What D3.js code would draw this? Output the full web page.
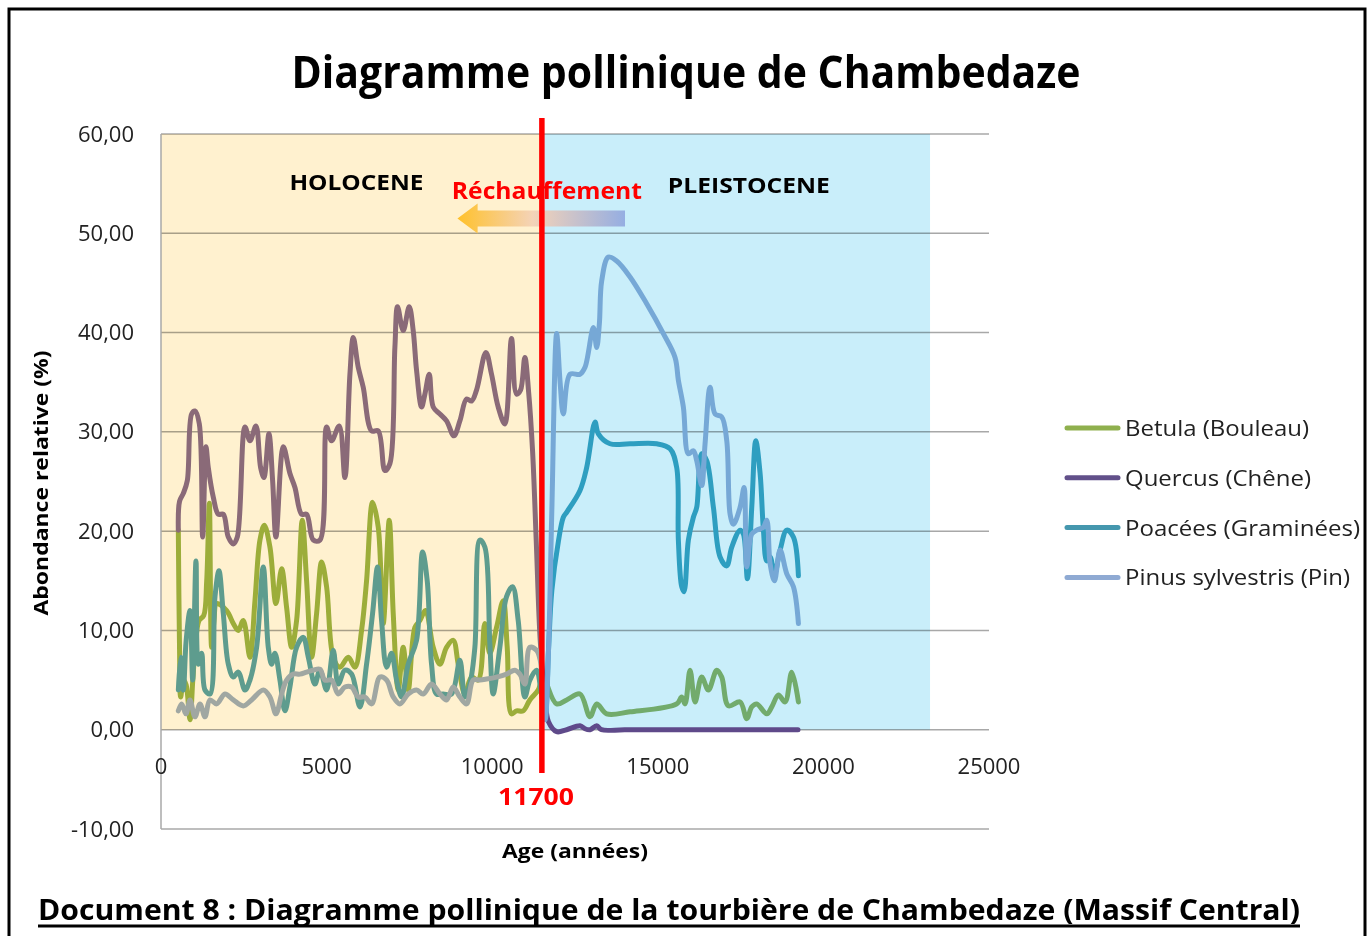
<!DOCTYPE html>
<html>
<head>
<meta charset="utf-8">
<script src="https://cdn.jsdelivr.net/npm/d3@7"></script>
<style>
  body { margin: 0; background: #fff; }
  text { font-family: "Open Sans", "Noto Sans", sans-serif; }
</style>
</head>
<body>
<div id="chart"></div>
<script>
// pollen data: [age in years, relative abundance %]
const betula = [[523,20.1],[560,8],[594,3.3],[680,5],[760,4.5],[875,1.0],[960,5],[1050,9],[1150,11],[1290,11.5],[1380,15],[1459,22.8],[1529,8.3],[1600,11],[1680,12.7],[1982,12.0],[2183,10.7],[2334,10],[2485,11],[2686,7.3],[2837,13],[2988,19.1],[3119,20.6],[3289,18.4],[3471,12.7],[3642,16.2],[3793,12.3],[3944,8.3],[4094,11],[4265,21.1],[4396,15],[4547,7.3],[4698,11.7],[4849,16.9],[5000,14.4],[5201,7.3],[5402,6.3],[5654,7.3],[5855,6.3],[6056,10],[6207,15],[6388,22.9],[6559,20.4],[6710,10.7],[6891,21.1],[7012,11.7],[7163,4],[7313,8.3],[7464,4],[7666,10.3],[7817,11],[7988,12],[8219,8.3],[8421,6.6],[8622,8.3],[8823,9],[8974,6.6],[9175,3.6],[9376,5.3],[9577,5],[9778,10.7],[9929,7.7],[10131,10.3],[10332,13],[10453,8.3],[10583,1.6],[10734,1.9],[10935,1.9],[11137,3],[11388,4],[11550,5.5],[11646,4.6],[11946,2.6],[12248,3.0],[12651,3.6],[12953,1.3],[13155,2.6],[13457,1.6],[14162,1.8],[15571,2.6],[15722,3.3],[15823,2.6],[15974,6.0],[16125,2.8],[16326,5.3],[16528,4.0],[16780,6.0],[16931,5.3],[17132,2.4],[17485,2.8],[17686,1.1],[17837,2.3],[17988,2.6],[18290,1.6],[18441,2.3],[18642,3.5],[18844,2.8],[19045,5.8],[19246,2.8]];

const quercus = [[523,20.1],[560,23],[674,23.8],[795,25.1],[925,31.8],[1026,32.1],[1157,30.8],[1258,19.4],[1358,28.5],[1428,26.4],[1580,23.4],[1730,21.7],[1881,21.7],[2032,19.4],[2183,18.7],[2304,19.4],[2535,30.5],[2686,29.1],[2867,30.6],[3008,26.4],[3108,25.4],[3259,29.8],[3370,25.1],[3471,19.4],[3692,28.5],[3893,25.8],[4044,24.4],[4245,21.7],[4396,21.7],[4597,19.1],[4798,19.1],[5000,30.5],[5150,29.1],[5382,30.6],[5553,25.4],[5704,35.8],[5805,39.5],[5955,36.5],[6106,34.5],[6358,30.1],[6559,30.1],[6760,26.1],[6911,26.8],[7062,38.5],[7142,42.6],[7313,40.2],[7494,42.6],[7615,40.2],[7716,36.2],[7867,32.5],[7968,33.8],[8099,35.8],[8219,32.5],[8421,31.8],[8622,31.1],[8843,29.6],[9024,31.1],[9226,33.3],[9376,33.1],[9527,34.2],[9809,38.0],[9980,35.8],[10181,32.5],[10382,30.8],[10583,39.4],[10734,33.8],[10855,34.2],[10986,37.5],[11100,34],[11220,28],[11330,19],[11450,9],[11600,3],[11700,0.8],[11946,-0.2],[12248,0],[12651,0.4],[12800,0.1],[12953,0],[13155,0.4],[13300,0],[14000,0],[16000,0],[19233,0]];

const poacees = [[523,4.0],[594,7.3],[674,4.0],[760,9],[875,12.0],[956,5.0],[1056,17.0],[1127,6.6],[1227,7.7],[1328,4.0],[1479,3.6],[1630,13.4],[1750,16.0],[1881,11.7],[2032,6.6],[2183,5.3],[2334,5.8],[2535,4.0],[2686,5.0],[2887,8.3],[3088,16.4],[3239,8.3],[3340,6.6],[3440,7.7],[3591,5.0],[3742,1.9],[3893,4.3],[4094,8.3],[4296,9.3],[4447,7.3],[4648,4.6],[4798,6.0],[5000,4.0],[5201,8.0],[5352,4.6],[5553,6.0],[5754,5.6],[6006,2.3],[6207,6.6],[6388,11.7],[6539,16.4],[6660,11.0],[6811,6.3],[6961,7.7],[7112,5.0],[7263,3.3],[7464,6.6],[7716,9.0],[7897,17.9],[8038,15.0],[8169,6.6],[8320,3.6],[8521,3.6],[8773,3.6],[9024,7.0],[9175,3.3],[9326,4.6],[9477,8.3],[9627,19.1],[9778,18.4],[9929,8.7],[10030,3.6],[10231,8.3],[10433,13.4],[10614,14.4],[10785,11.0],[10986,3.3],[11137,5.0],[11338,6.0],[11470,4],[11600,1.5],[11700,8],[11800,14],[12000,19],[12148,21.4],[12248,21.9],[12651,24.1],[12852,26.4],[13105,31.0],[13205,29.8],[13557,28.8],[14162,28.8],[14968,28.8],[15370,28.3],[15571,26.4],[15621,19.1],[15722,14.4],[15792,13.9],[15923,19.1],[16074,21.4],[16175,22.4],[16326,27.8],[16477,27.1],[16679,22.4],[16880,17.4],[17082,16.5],[17233,18.4],[17485,20.1],[17585,19.7],[17706,15.2],[17837,22.4],[17958,29.1],[18089,25.8],[18189,20.1],[18290,17.0],[18391,17.4],[18522,15.7],[18693,18.1],[18894,20.1],[19095,19.4],[19246,15.5]];

const pinus = [[523,1.9],[624,2.6],[755,1.6],[875,3.0],[1026,1.3],[1177,2.6],[1328,1.3],[1479,3.0],[1680,2.6],[1931,3.6],[2183,3.0],[2485,2.4],[2736,3.0],[3088,4.0],[3289,3.3],[3471,1.6],[3642,3.6],[3793,5.0],[3994,5.6],[4195,5.6],[4396,5.8],[4597,6.0],[4798,6.1],[4949,5.0],[5150,5.0],[5352,3.6],[5553,4.3],[5754,4.3],[5955,3.3],[6157,3.3],[6358,2.6],[6609,5.3],[6811,5.0],[7012,3.3],[7213,2.6],[7464,3.6],[7716,4.0],[7917,3.6],[8169,4.6],[8421,3.6],[8622,3.0],[8823,4.3],[9024,3.3],[9226,2.6],[9426,5.0],[9627,5.0],[9829,5.1],[10131,5.3],[10433,5.6],[10684,6.0],[10835,5.6],[10986,4.6],[11137,8.3],[11338,8.0],[11450,7],[11600,1],[11700,8],[11800,22],[11946,39.9],[12050,35],[12148,31.8],[12349,35.8],[12651,35.8],[12802,36.5],[13054,40.5],[13155,38.5],[13236,40.9],[13306,45.2],[13507,47.6],[13759,47.2],[14162,45.6],[14665,42.9],[15168,39.9],[15521,37.5],[15621,35.2],[15772,32.5],[15923,27.8],[16074,28.1],[16175,27.1],[16326,24.6],[16427,28.8],[16578,34.5],[16729,31.8],[16931,31.5],[17082,29.1],[17183,21.7],[17283,20.7],[17485,22.4],[17606,24.4],[17686,16.4],[17837,19.7],[17988,20.1],[18189,20.4],[18290,21.1],[18391,16.7],[18522,15.0],[18693,18.1],[18894,15.7],[19095,14.4],[19246,10.7]];

const seriesData = [betula, quercus, poacees, pinus];
const seriesNames = ["Betula (Bouleau)", "Quercus (Chêne)", "Poacées (Graminées)", "Pinus sylvestris (Pin)"];
const legendColors = ["#8FB04E", "#62508A", "#4597AE", "#8FAAD3"];
const holoceneColors = ["#9CAD3A", "#8A6A78", "#5E9C8E", "#A0A7A2"];
const pleistoceneColors = ["#72AB6C", "#5F4A8A", "#2E9EC0", "#76A8D6"];

const xTicks = [0, 5000, 10000, 15000, 20000, 25000];
const yTicks = [-10, 0, 10, 20, 30, 40, 50, 60];

// periods shaded behind the curves
const boundaryAge = 11500;
const periods = [
  { name: "HOLOCENE", from: 0, to: boundaryAge, fill: "#FFF1CF", labelAge: 5900, labelValue: 55.2 },
  { name: "PLEISTOCENE", from: boundaryAge, to: 23220, fill: "#C9EEFA", labelAge: 17750, labelValue: 54.9 }
];

const width = 1371, height = 936;
const svg = d3.select("#chart").append("svg")
  .attr("width", width)
  .attr("height", height);

// outer frame
svg.append("rect")
  .attr("x", 9).attr("y", 9)
  .attr("width", 1356).attr("height", 940)
  .attr("fill", "none")
  .attr("stroke", "#000")
  .attr("stroke-width", 3);

const x = d3.scaleLinear().domain([0, 25000]).range([161, 989]);
const y = d3.scaleLinear().domain([-10, 60]).range([829, 134]);

// title
svg.append("text")
  .attr("x", 686).attr("y", 88)
  .attr("text-anchor", "middle")
  .attr("font-size", 44).attr("font-weight", "bold")
  .attr("textLength", 789).attr("lengthAdjust", "spacingAndGlyphs")
  .text("Diagramme pollinique de Chambedaze");

// shaded periods
svg.selectAll("rect.period")
  .data(periods)
  .join("rect")
  .attr("class", "period")
  .attr("x", d => x(d.from))
  .attr("y", y(60))
  .attr("width", d => x(d.to) - x(d.from))
  .attr("height", y(0) - y(60))
  .attr("fill", d => d.fill);

// gridlines
svg.append("g")
  .selectAll("line")
  .data(yTicks)
  .join("line")
  .attr("x1", x(0)).attr("x2", x(25000))
  .attr("y1", d => y(d)).attr("y2", d => y(d))
  .attr("stroke", "#A8A8A8")
  .attr("stroke-width", 1.5)
  .style("mix-blend-mode", "multiply");

// y axis line
svg.append("line")
  .attr("x1", x(0)).attr("x2", x(0))
  .attr("y1", y(60)).attr("y2", y(-10))
  .attr("stroke", "#A8A8A8")
  .attr("stroke-width", 1.5);

// tick labels
svg.append("g")
  .selectAll("text")
  .data(yTicks)
  .join("text")
  .attr("x", 134)
  .attr("y", d => y(d) + 7.5)
  .attr("text-anchor", "end")
  .attr("font-size", 22)
  .attr("fill", "#222")
  .text(d => d3.format(".2f")(d).replace(".", ",").replace("−", "-"));

svg.append("g")
  .selectAll("text")
  .data(xTicks)
  .join("text")
  .attr("x", d => x(d))
  .attr("y", 774)
  .attr("text-anchor", "middle")
  .attr("font-size", 22)
  .attr("fill", "#222")
  .text(d => d);

// clip each curve in two parts, one per period
const defs = svg.append("defs");
periods.forEach((p, i) => {
  defs.append("clipPath").attr("id", "clip" + i)
    .append("rect")
    .attr("x", i === 0 ? 0 : x(p.from))
    .attr("y", 0)
    .attr("width", i === 0 ? x(p.to) : width - x(p.from))
    .attr("height", height);
});

const line = d3.line()
  .x(d => x(d[0]))
  .y(d => y(d[1]))
  .curve(d3.curveCatmullRom.alpha(0.5));

[holoceneColors, pleistoceneColors].forEach((colors, i) => {
  svg.append("g")
    .attr("clip-path", `url(#clip${i})`)
    .selectAll("path")
    .data(seriesData)
    .join("path")
    .attr("d", line)
    .attr("fill", "none")
    .attr("stroke", (d, j) => colors[j])
    .attr("stroke-width", 5)
    .attr("stroke-linejoin", "round")
    .attr("stroke-linecap", "round");
});

// period labels
svg.selectAll("text.period")
  .data(periods)
  .join("text")
  .attr("class", "period")
  .attr("x", d => x(d.labelAge))
  .attr("y", d => y(d.labelValue) + 8)
  .attr("text-anchor", "middle")
  .attr("font-size", 22).attr("font-weight", "bold")
  .attr("fill", "#000")
  .attr("textLength", (d, i) => i === 0 ? 134 : 162)
  .attr("lengthAdjust", "spacingAndGlyphs")
  .text(d => d.name);

// warming arrow
const grad = defs.append("linearGradient").attr("id", "warm")
  .attr("x1", "0%").attr("x2", "100%");
grad.append("stop").attr("offset", "0%").attr("stop-color", "#FFC12B");
grad.append("stop").attr("offset", "45%").attr("stop-color", "#F4D3B8");
grad.append("stop").attr("offset", "100%").attr("stop-color", "#95AEE2");

const tipX = x(8950), headX = x(9560), tailX = x(14010), yc = y(51.5);
svg.append("path")
  .attr("d", `M${tipX},${yc} L${headX},${yc - 15} L${headX},${yc - 8} L${tailX},${yc - 8} L${tailX},${yc + 8} L${headX},${yc + 8} L${headX},${yc + 15} Z`)
  .attr("fill", "url(#warm)");

svg.append("text")
  .attr("x", x(11650)).attr("y", y(54.4) + 9)
  .attr("text-anchor", "middle")
  .attr("font-size", 23).attr("font-weight", "bold")
  .attr("fill", "#FF0000")
  .attr("textLength", 190).attr("lengthAdjust", "spacingAndGlyphs")
  .text("Réchauffement");

// boundary line
svg.append("line")
  .attr("x1", x(boundaryAge)).attr("x2", x(boundaryAge))
  .attr("y1", 118).attr("y2", 773)
  .attr("stroke", "#FF0000")
  .attr("stroke-width", 5.5);

svg.append("text")
  .attr("x", 536).attr("y", 805)
  .attr("text-anchor", "middle")
  .attr("font-size", 24).attr("font-weight", "bold")
  .attr("fill", "#FF0000")
  .attr("textLength", 76).attr("lengthAdjust", "spacingAndGlyphs")
  .text("11700");

// axis titles
svg.append("text")
  .attr("x", 575).attr("y", 858)
  .attr("text-anchor", "middle")
  .attr("font-size", 20).attr("font-weight", "bold")
  .attr("textLength", 146).attr("lengthAdjust", "spacingAndGlyphs")
  .text("Age (années)");

svg.append("text")
  .attr("transform", "translate(48,483) rotate(-90)")
  .attr("text-anchor", "middle")
  .attr("font-size", 20).attr("font-weight", "bold")
  .attr("textLength", 265).attr("lengthAdjust", "spacingAndGlyphs")
  .text("Abondance relative (%)");

// legend
const legend = svg.append("g")
  .selectAll("g")
  .data(seriesNames)
  .join("g")
  .attr("transform", (d, i) => `translate(1065,${428 + i * 49.8})`);

legend.append("line")
  .attr("x1", 2).attr("x2", 53)
  .attr("stroke", (d, i) => legendColors[i])
  .attr("stroke-width", 5)
  .attr("stroke-linecap", "round");

legend.append("text")
  .attr("x", 60).attr("y", 8)
  .attr("font-size", 21)
  .attr("fill", "#222")
  .attr("textLength", (d, i) => [184, 186, 235, 225][i])
  .attr("lengthAdjust", "spacingAndGlyphs")
  .text(d => d);

// caption
svg.append("text")
  .attr("x", 38).attr("y", 920)
  .attr("font-size", 28).attr("font-weight", "bold")
  .attr("textLength", 1262).attr("lengthAdjust", "spacingAndGlyphs")
  .text("Document 8 : Diagramme pollinique de la tourbière de Chambedaze (Massif Central)");

svg.append("line")
  .attr("x1", 38).attr("x2", 1300)
  .attr("y1", 926).attr("y2", 926)
  .attr("stroke", "#000")
  .attr("stroke-width", 3);
</script>
</body>
</html>
